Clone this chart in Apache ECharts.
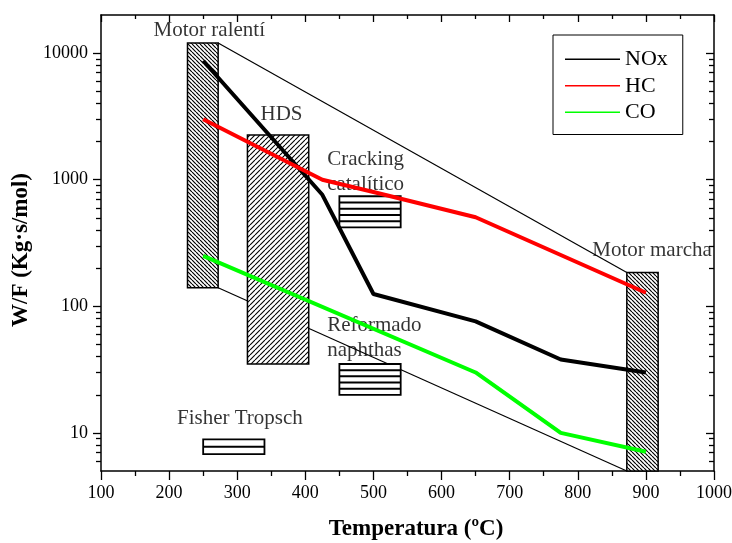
<!DOCTYPE html>
<html>
<head>
<meta charset="utf-8">
<script src="https://cdn.jsdelivr.net/npm/echarts@6/dist/echarts.min.js"></script>
<style>
  html, body { margin: 0; padding: 0; background: #fff; }
  #chart { width: 732px; height: 543px; }
</style>
</head>
<body>
<div id="chart"></div>
<script>
// temperature (ºC) vs W/F (Kg·s/mol)
const noxData = [[250, 8700], [425, 760], [500, 125], [650, 76], [775, 38], [900, 30]];
const hcData = [[250, 3000], [425, 1000], [500, 800], [650, 505], [900, 128]];
const coData = [[250, 250], [650, 30], [775, 10], [900, 7.1]];

// envelope between idle and running engine
const upperEnvelope = [[272, 12000], [872, 185]];
const lowerEnvelope = [[272, 140], [872, 5]];

// [xFrom, xTo, yFrom, yTo]
const engineBoxes = [[227, 272, 140, 12000], [872, 918, 5, 185]];
const hdsBoxes = [[315, 405, 35, 2250]];
const processBoxes = [[450, 540, 420, 740], [450, 540, 20, 35], [250, 340, 6.8, 8.9]];

const centerNotes = [['Motor ralentí', 259, 15000], ['HDS', 365, 3250], ['Fisher Tropsch', 304, 13], ['Motor marcha', 909, 278]];
const leftNotes = [['Cracking\ncatalítico', 432, 1160], ['Reformado\nnaphthas', 432, 56]];

const yMajor = [10, 100, 1000, 10000];
const yMinor = [6, 7, 8, 9, 20, 30, 40, 50, 60, 70, 80, 90, 200, 300, 400, 500, 600, 700, 800, 900,
    2000, 3000, 4000, 5000, 6000, 7000, 8000, 9000];

const FONT = 'Liberation Serif';

function hatch(size, back, width) {
    const c = document.createElement('canvas');
    c.width = size;
    c.height = size;
    const ctx = c.getContext('2d');
    ctx.fillStyle = '#fff';
    ctx.fillRect(0, 0, size, size);
    ctx.strokeStyle = '#000';
    ctx.lineWidth = width;
    ctx.beginPath();
    for (let k = -size; k <= size; k += size) {
        if (back) {
            ctx.moveTo(k, 0);
            ctx.lineTo(k + size, size);
        } else {
            ctx.moveTo(k, size);
            ctx.lineTo(k + size, 0);
        }
    }
    ctx.stroke();
    return c;
}

const enginePattern = { image: hatch(4, true, 1.2), repeat: 'repeat' };
const hdsPattern = { image: hatch(5, false, 1.1), repeat: 'repeat' };

function boxRect(api) {
    const a = api.coord([api.value(0), api.value(3)]);
    const b = api.coord([api.value(1), api.value(2)]);
    return { x: a[0], y: a[1], width: b[0] - a[0], height: b[1] - a[1] };
}

function hatchedRender(pattern) {
    return (params, api) => ({
        type: 'rect',
        shape: boxRect(api),
        style: { fill: pattern, stroke: '#000', lineWidth: 1.5 },
    });
}

function stripedRender(params, api) {
    const r = boxRect(api);
    const n = Math.max(2, Math.round(r.height / 6.3));
    const children = [{
        type: 'rect',
        shape: r,
        style: { fill: '#fff', stroke: '#000', lineWidth: 1.8 },
    }];
    for (let i = 1; i < n; i++) {
        const y = r.y + (r.height * i) / n;
        children.push({
            type: 'line',
            shape: { x1: r.x, y1: y, x2: r.x + r.width, y2: y },
            style: { stroke: '#000', lineWidth: 2 },
        });
    }
    return { type: 'group', children };
}

const chart = echarts.init(document.getElementById('chart'), null, { renderer: 'canvas' });

const axisLine = { show: true, lineStyle: { color: '#000', width: 1.5 } };
const tickLine = { color: '#000', width: 1.3 };
const plainNumber = (v) => String(Math.round(v));

function logAxis(extra) {
    return Object.assign({
        type: 'log',
        logBase: 10,
        min: 5,
        max: 20000,
        splitLine: { show: false },
        axisLabel: { show: false },
    }, extra);
}

const noteLabel = (align) => ({
    show: true,
    position: [0, 0],
    align,
    verticalAlign: 'middle',
    formatter: (p) => p.data[0],
    fontFamily: FONT,
    fontSize: 21,
    lineHeight: 25,
    color: '#000',
});

chart.setOption({
    animation: false,
    backgroundColor: '#fff',
    grid: { left: 101, right: 18, top: 15, bottom: 72, outerBoundsMode: 'none' },
    legend: {
        orient: 'vertical',
        left: 553,
        top: 35,
        data: ['NOx', 'HC', 'CO'],
        icon: 'rect',
        itemWidth: 55,
        itemHeight: 1.5,
        itemGap: 0,
        padding: [11, 15, 9, 12],
        borderColor: '#000',
        borderWidth: 1,
        textStyle: { fontFamily: FONT, fontSize: 22, lineHeight: 26.5, color: '#000' },
    },
    xAxis: [
        {
            type: 'value',
            position: 'bottom',
            min: 100,
            max: 1000,
            interval: 100,
            axisLine,
            axisTick: { inside: false, length: 9, lineStyle: tickLine },
            minorTick: { show: true, splitNumber: 2, length: 5, lineStyle: tickLine },
            splitLine: { show: false },
            axisLabel: { fontFamily: FONT, fontSize: 18, color: '#000', margin: 13, formatter: plainNumber },
            name: 'Temperatura (ºC)',
            nameLocation: 'middle',
            nameGap: 47,
            nameTextStyle: { fontFamily: FONT, fontSize: 23, fontWeight: 'bold', color: '#000', padding: [0, 0, 0, 17] },
        },
        {
            type: 'value',
            position: 'top',
            min: 100,
            max: 1000,
            interval: 100,
            axisLine,
            axisTick: { inside: true, length: 7, lineStyle: tickLine },
            minorTick: { show: true, splitNumber: 2, length: 4, lineStyle: tickLine },
            splitLine: { show: false },
            axisLabel: { show: false },
        },
    ],
    yAxis: [
        logAxis({
            position: 'left',
            axisLine,
            axisTick: { inside: false, length: 8, customValues: yMajor, lineStyle: tickLine },
            axisLabel: {
                show: true, customValues: yMajor, fontFamily: FONT, fontSize: 18, color: '#000',
                margin: 13, formatter: plainNumber,
            },
            name: 'W/F (Kg·s/mol)',
            nameLocation: 'middle',
            nameGap: 58,
            nameTextStyle: { fontFamily: FONT, fontSize: 23, fontWeight: 'bold', color: '#000', padding: [0, 14, 0, 0] },
        }),
        logAxis({
            position: 'left',
            axisLine: { show: false },
            axisTick: { inside: false, length: 5, customValues: yMinor, lineStyle: tickLine },
        }),
        logAxis({
            position: 'right',
            axisLine,
            axisTick: { inside: true, length: 8, customValues: yMajor, lineStyle: tickLine },
        }),
        logAxis({
            position: 'right',
            axisLine: { show: false },
            axisTick: { inside: true, length: 5, customValues: yMinor, lineStyle: tickLine },
        }),
    ],
    series: [
        {
            type: 'line', silent: true, z: 1, symbol: 'none', data: upperEnvelope,
            lineStyle: { color: '#000', width: 1.2 },
        },
        {
            type: 'line', silent: true, z: 1, symbol: 'none', data: lowerEnvelope,
            lineStyle: { color: '#000', width: 1.2 },
        },
        { type: 'custom', z: 2, silent: true, data: engineBoxes, renderItem: hatchedRender(enginePattern) },
        { type: 'custom', z: 2, silent: true, data: hdsBoxes, renderItem: hatchedRender(hdsPattern) },
        { type: 'custom', z: 2, silent: true, data: processBoxes, renderItem: stripedRender },
        {
            type: 'scatter', z: 3, silent: true, symbolSize: 0,
            encode: { x: 1, y: 2 },
            data: centerNotes,
            label: noteLabel('center'),
        },
        {
            type: 'scatter', z: 3, silent: true, symbolSize: 0,
            encode: { x: 1, y: 2 },
            data: leftNotes,
            label: noteLabel('left'),
        },
        {
            name: 'NOx', type: 'line', z: 5, symbol: 'none', data: noxData,
            color: '#000', lineStyle: { color: '#000', width: 4 },
        },
        {
            name: 'HC', type: 'line', z: 5, symbol: 'none', data: hcData,
            color: '#ff0000', lineStyle: { color: '#ff0000', width: 4 },
        },
        {
            name: 'CO', type: 'line', z: 5, symbol: 'none', data: coData,
            color: '#00ff00', lineStyle: { color: '#00ff00', width: 4 },
        },
    ],
});
</script>
</body>
</html>
